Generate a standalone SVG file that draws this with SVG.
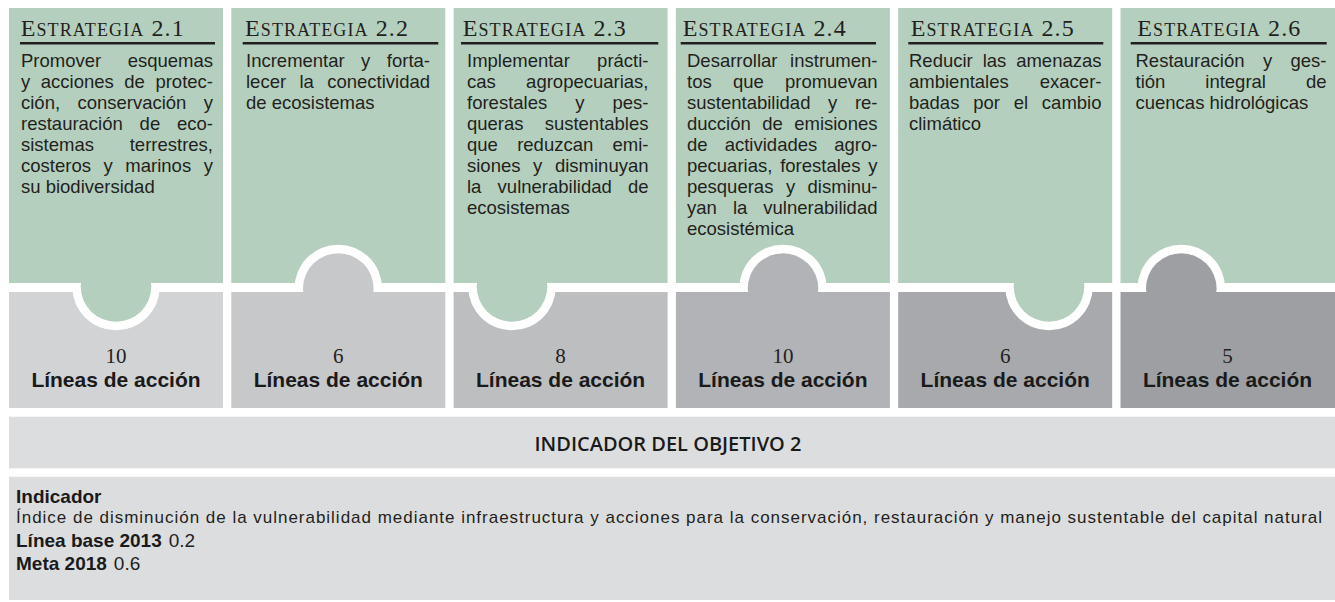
<svg xmlns="http://www.w3.org/2000/svg" width="1335" height="602" viewBox="0 0 1335 602">
<style>
.gr{fill:#b4cfbd}
.wh{fill:#ffffff}
.g1{fill:#d1d3d4}.g2{fill:#c7c8ca}.g3{fill:#bcbec0}.g4{fill:#b1b3b6}.g5{fill:#a7a9ac}.g6{fill:#9d9fa2}
.band{fill:#dcdddf}
.hd{font-family:"Liberation Serif","Times New Roman",serif;fill:#231f20;letter-spacing:1.1px}
.big{font-size:24px}
.sc{font-size:18px}
.ul{stroke:#231f20;stroke-width:2.6}
.bd{font-family:"Liberation Sans",Arial,sans-serif;font-size:18.5px;fill:#231f20}
.e{text-anchor:end}
.num{font-family:"Liberation Serif","Times New Roman",serif;font-size:21px;fill:#231f20;text-anchor:middle}
.la{font-family:"Liberation Sans",Arial,sans-serif;font-size:21px;font-weight:700;fill:#1a1a1a;text-anchor:middle}
.ttl{font-family:"Open Sans","Noto Sans",sans-serif;font-size:20px;font-weight:600;fill:#1a1a1a;text-anchor:middle}
.lb{font-family:"Liberation Sans",Arial,sans-serif;font-size:19px;font-weight:700;fill:#1a1a1a}
.val{font-family:"Liberation Sans",Arial,sans-serif;font-size:19px;font-weight:400;fill:#231f20}
.desc{font-family:"Liberation Sans",Arial,sans-serif;font-size:17px;font-weight:400;fill:#231f20}
</style>
<rect width="1335" height="602" fill="#ffffff"/>

<g id="strategy-2-1">
<rect class="g1" x="9" y="292" width="214" height="116"/>
<circle class="wh" cx="116" cy="286.5" r="43.8"/>
<rect class="gr" x="9" y="8" width="214" height="275"/>
<circle class="gr" cx="116" cy="286.5" r="35.3"/>
<text class="hd" x="20.7" y="36"><tspan class="big">E</tspan><tspan class="sc">STRATEGIA</tspan><tspan class="big"> 2.1</tspan></text>
<line class="ul" x1="20" y1="43.3" x2="215" y2="43.3"/>
<text class="bd" y="67"><tspan x="21">Promover</tspan><tspan class="e" x="213">esquemas</tspan></text>
<text class="bd" y="88"><tspan x="21">y</tspan><tspan x="40.75">acciones</tspan><tspan x="124.25">de</tspan><tspan class="e" x="213">protec-</tspan></text>
<text class="bd" y="109"><tspan x="21">ción,</tspan><tspan x="77.4">conservación</tspan><tspan class="e" x="213">y</tspan></text>
<text class="bd" y="130"><tspan x="21">restauración</tspan><tspan x="139.6">de</tspan><tspan class="e" x="213">eco-</tspan></text>
<text class="bd" y="151"><tspan x="21">sistemas</tspan><tspan class="e" x="213">terrestres,</tspan></text>
<text class="bd" y="172"><tspan x="21">costeros</tspan><tspan x="103.5">y</tspan><tspan x="125.35">marinos</tspan><tspan class="e" x="213">y</tspan></text>
<text class="bd" x="21" y="193">su biodiversidad</text>
<text class="num" x="116" y="363.3">10</text>
<text class="la" x="116" y="387.3">Líneas de acción</text>
</g>

<g id="strategy-2-2">
<rect class="gr" x="231.3" y="8" width="214" height="275"/>
<circle class="wh" cx="338.3" cy="288.5" r="43.8"/>
<rect class="g2" x="231.3" y="292" width="214" height="116"/>
<circle class="g2" cx="338.3" cy="288.5" r="35.3"/>
<text class="hd" x="245" y="36"><tspan class="big">E</tspan><tspan class="sc">STRATEGIA</tspan><tspan class="big"> 2.2</tspan></text>
<line class="ul" x1="242.7" y1="43.3" x2="438.3" y2="43.3"/>
<text class="bd" y="67"><tspan x="246">Incrementar</tspan><tspan x="361.1">y</tspan><tspan class="e" x="430">forta-</tspan></text>
<text class="bd" y="88"><tspan x="246">lecer</tspan><tspan x="299.45">la</tspan><tspan class="e" x="430">conectividad</tspan></text>
<text class="bd" x="246" y="109">de ecosistemas</text>
<text class="num" x="338.3" y="363.3">6</text>
<text class="la" x="338.3" y="387.3">Líneas de acción</text>
</g>

<g id="strategy-2-3">
<rect class="g3" x="453.6" y="292" width="214" height="116"/>
<circle class="wh" cx="512" cy="286.5" r="43.8"/>
<rect class="gr" x="453.6" y="8" width="214" height="275"/>
<circle class="gr" cx="512" cy="286.5" r="35.3"/>
<text class="hd" x="462.7" y="36"><tspan class="big">E</tspan><tspan class="sc">STRATEGIA</tspan><tspan class="big"> 2.3</tspan></text>
<line class="ul" x1="461" y1="43.3" x2="658.3" y2="43.3"/>
<text class="bd" y="67"><tspan x="467">Implementar</tspan><tspan class="e" x="648.5">prácti-</tspan></text>
<text class="bd" y="88"><tspan x="467">cas</tspan><tspan class="e" x="648.5">agropecuarias,</tspan></text>
<text class="bd" y="109"><tspan x="467">forestales</tspan><tspan x="575.2">y</tspan><tspan class="e" x="648.5">pes-</tspan></text>
<text class="bd" y="130"><tspan x="467">queras</tspan><tspan class="e" x="648.5">sustentables</tspan></text>
<text class="bd" y="151"><tspan x="467">que</tspan><tspan x="517.15">reduzcan</tspan><tspan class="e" x="648.5">emi-</tspan></text>
<text class="bd" y="172"><tspan x="467">siones</tspan><tspan x="533.1">y</tspan><tspan class="e" x="648.5">disminuyan</tspan></text>
<text class="bd" y="193"><tspan x="467">la</tspan><tspan x="497.6">vulnerabilidad</tspan><tspan class="e" x="648.5">de</tspan></text>
<text class="bd" x="467" y="214">ecosistemas</text>
<text class="num" x="560.6" y="363.3">8</text>
<text class="la" x="560.6" y="387.3">Líneas de acción</text>
</g>

<g id="strategy-2-4">
<rect class="gr" x="675.9" y="8" width="214" height="275"/>
<circle class="wh" cx="783" cy="288.5" r="43.8"/>
<rect class="g4" x="675.9" y="292" width="214" height="116"/>
<circle class="g4" cx="783" cy="288.5" r="35.3"/>
<text class="hd" x="682.7" y="36"><tspan class="big">E</tspan><tspan class="sc">STRATEGIA</tspan><tspan class="big"> 2.4</tspan></text>
<line class="ul" x1="680.7" y1="43.3" x2="876" y2="43.3"/>
<text class="bd" y="67"><tspan x="687">Desarrollar</tspan><tspan class="e" x="877.5">instrumen-</tspan></text>
<text class="bd" y="88"><tspan x="687">tos</tspan><tspan x="732.9">que</tspan><tspan class="e" x="877.5">promuevan</tspan></text>
<text class="bd" y="109"><tspan x="687">sustentabilidad</tspan><tspan x="828">y</tspan><tspan class="e" x="877.5">re-</tspan></text>
<text class="bd" y="130"><tspan x="687">ducción</tspan><tspan x="762.15">de</tspan><tspan class="e" x="877.5">emisiones</tspan></text>
<text class="bd" y="151"><tspan x="687">de</tspan><tspan x="724.7">actividades</tspan><tspan class="e" x="877.5">agro-</tspan></text>
<text class="bd" y="172"><tspan x="687">pecuarias,</tspan><tspan x="780.2">forestales</tspan><tspan class="e" x="877.5">y</tspan></text>
<text class="bd" y="193"><tspan x="687">pesqueras</tspan><tspan x="785.9">y</tspan><tspan class="e" x="877.5">disminu-</tspan></text>
<text class="bd" y="214"><tspan x="687">yan</tspan><tspan x="732.9">la</tspan><tspan class="e" x="877.5">vulnerabilidad</tspan></text>
<text class="bd" x="687" y="235">ecosistémica</text>
<text class="num" x="782.9" y="363.3">10</text>
<text class="la" x="782.9" y="387.3">Líneas de acción</text>
</g>

<g id="strategy-2-5">
<rect class="g5" x="898.2" y="292" width="214" height="116"/>
<circle class="wh" cx="1049" cy="286.5" r="43.8"/>
<rect class="gr" x="898.2" y="8" width="214" height="275"/>
<circle class="gr" cx="1049" cy="286.5" r="35.3"/>
<text class="hd" x="910.7" y="36"><tspan class="big">E</tspan><tspan class="sc">STRATEGIA</tspan><tspan class="big"> 2.5</tspan></text>
<line class="ul" x1="908.3" y1="43.3" x2="1103.3" y2="43.3"/>
<text class="bd" y="67"><tspan x="909">Reducir</tspan><tspan x="982.65">las</tspan><tspan class="e" x="1101.5">amenazas</tspan></text>
<text class="bd" y="88"><tspan x="909">ambientales</tspan><tspan class="e" x="1101.5">exacer-</tspan></text>
<text class="bd" y="109"><tspan x="909">badas</tspan><tspan x="973.2">por</tspan><tspan x="1013.7">el</tspan><tspan class="e" x="1101.5">cambio</tspan></text>
<text class="bd" x="909" y="130">climático</text>
<text class="num" x="1005.2" y="363.3">6</text>
<text class="la" x="1005.2" y="387.3">Líneas de acción</text>
</g>

<g id="strategy-2-6">
<rect class="gr" x="1120.5" y="8" width="214.5" height="275"/>
<circle class="wh" cx="1181.3" cy="288.5" r="43.8"/>
<rect class="g6" x="1120.5" y="292" width="214.5" height="116"/>
<circle class="g6" cx="1181.3" cy="288.5" r="35.3"/>
<text class="hd" x="1137.3" y="36"><tspan class="big">E</tspan><tspan class="sc">STRATEGIA</tspan><tspan class="big"> 2.6</tspan></text>
<line class="ul" x1="1130.7" y1="43.3" x2="1326.7" y2="43.3"/>
<text class="bd" y="67"><tspan x="1135.5">Restauración</tspan><tspan x="1262.9">y</tspan><tspan class="e" x="1326.5">ges-</tspan></text>
<text class="bd" y="88"><tspan x="1135.5">tión</tspan><tspan x="1205.3">integral</tspan><tspan class="e" x="1326.5">de</tspan></text>
<text class="bd" x="1135.5" y="109">cuencas hidrológicas</text>
<text class="num" x="1227.5" y="363.3">5</text>
<text class="la" x="1227.5" y="387.3">Líneas de acción</text>
</g>

<g id="connectors"></g>

<g id="indicator-title">
<rect class="band" x="9" y="416.7" width="1326" height="51.6"/>
<text class="ttl" x="668" y="451">INDICADOR DEL OBJETIVO 2</text>
</g>

<g id="indicator">
<rect class="band" x="9" y="476.7" width="1326" height="123.3"/>
<text class="lb" x="16" y="503">Indicador</text>
<text class="desc" x="16" y="523" textLength="1306" lengthAdjust="spacing">Índice de disminución de la vulnerabilidad mediante infraestructura y acciones para la conservación, restauración y manejo sustentable del capital natural</text>
<text y="547"><tspan class="lb" x="16">Línea base 2013</tspan><tspan class="val" dx="7">0.2</tspan></text>
<text y="570"><tspan class="lb" x="16">Meta 2018</tspan><tspan class="val" dx="7">0.6</tspan></text>
</g>
</svg>
